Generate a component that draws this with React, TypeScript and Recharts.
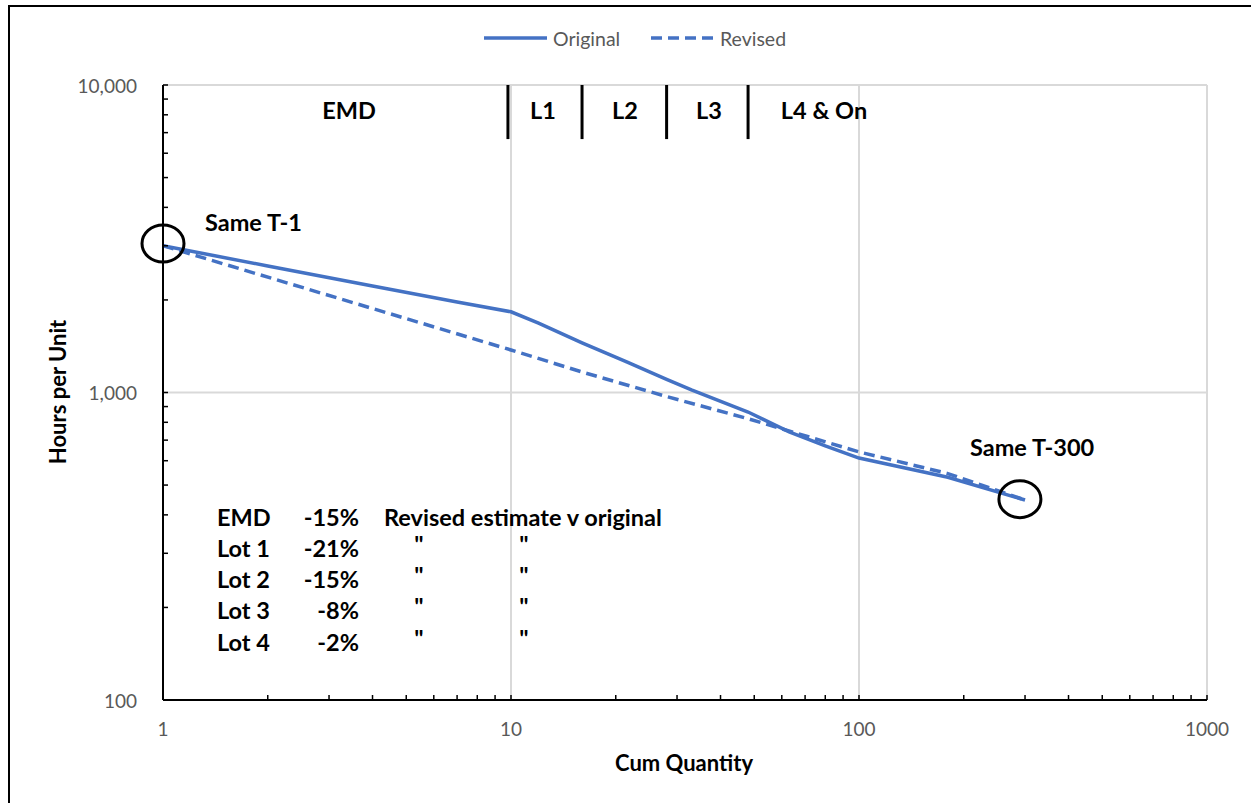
import React from 'react';
import { LineChart, Line, XAxis, YAxis, ReferenceLine, ReferenceDot } from 'recharts';

// ---- data ----
const originalQty = [1, 2, 4, 7, 10, 12, 16, 21.5, 28, 33, 48, 63, 80, 100, 180, 300];
const originalHours = [3000, 2580, 2220, 1970, 1830, 1680, 1450, 1257, 1103, 1020, 864, 745, 670, 612, 530, 447];
const revisedQty = [1, 10, 16, 28, 48, 100, 180, 300];
const revisedHours = [3000, 1375, 1166, 970, 822, 641, 545, 447];

const xTicks = [1, 2, 3, 4, 5, 6, 7, 8, 9, 10, 20, 30, 40, 50, 60, 70, 80, 90, 100, 200, 300, 400, 500, 600, 700, 800, 900, 1000];
const xMajor = [1, 10, 100, 1000];
const yTicks = [100, 200, 300, 400, 500, 600, 700, 800, 900, 1000, 2000, 3000, 4000, 5000, 6000, 7000, 8000, 9000, 10000];
const yMajor = [100, 1000, 10000];
const gridX = [10, 100, 1000];
const gridY = [1000, 10000];

const lotBoundaries = [9.8, 16, 28, 48];
const lotBoundaryTop = 10000;
const lotBoundaryBottom = 6670;
const lotLabels = ['EMD', 'L1', 'L2', 'L3', 'L4 & On'];

const circleQty = [1, 290];
const circleHours = [3050, 450];
const circleLabels = ['Same T-1', 'Same T-300'];

const lotNames = ['EMD', 'Lot 1', 'Lot 2', 'Lot 3', 'Lot 4'];
const lotChanges = ['-15%', '-21%', '-15%', '-8%', '-2%'];
const tableNote = 'Revised estimate v original';

const seriesNames = ['Original', 'Revised'];

const originalData = originalQty.map((q, i) => ({ qty: q, hours: originalHours[i] }));
const revisedData = revisedQty.map((q, i) => ({ qty: q, hours: revisedHours[i] }));

const FONT = "Lato, 'Open Sans', sans-serif";
const BLUE = '#4472C4';
const TICK_FS = 19;
const ANNO_FS = 23.5;

const XTick = (props: any) => {
  const { x, y, payload } = props;
  const v = payload.value;
  const major = xMajor.includes(v);
  return (
    <g>
      <line x1={x} y1={y} x2={x} y2={y - 5} stroke="#000" strokeWidth={1.5} />
      {major && (
        <text x={x} y={y + 28} textAnchor="middle" dominantBaseline="central" fill="#595959" fontSize={TICK_FS} fontFamily={FONT}>
          {v}
        </text>
      )}
    </g>
  );
};

const YTick = (props: any) => {
  const { x, y, payload } = props;
  const v = payload.value;
  const major = yMajor.includes(v);
  return (
    <g>
      <line x1={x} y1={y} x2={x + 5} y2={y} stroke="#000" strokeWidth={1.5} />
      {major && (
        <text x={x - 26} y={y} textAnchor="end" dominantBaseline="central" fill="#595959" fontSize={TICK_FS} fontFamily={FONT}>
          {v.toLocaleString('en-US')}
        </text>
      )}
    </g>
  );
};

const Ellipse = (props: any) => (
  <ellipse cx={props.cx} cy={props.cy} rx={21} ry={18.5} fill="none" stroke="#000" strokeWidth={3} />
);

export default function App() {
  const lotLabelX = [349, 543, 625, 709, 824];
  const rowY = [517, 548, 579, 610, 642];
  const bold = { fontSize: ANNO_FS, fontWeight: 'bold' as const, fill: '#000', fontFamily: FONT };
  return (
    <div style={{ position: 'absolute', left: 0, top: 0, width: 1251, height: 803, overflow: 'hidden', background: '#fff' }}>
      <div style={{ position: 'absolute', left: 8, top: 5, width: 1300, height: 900, borderTop: '2px solid #000', borderLeft: '2px solid #000' }} />
      <div style={{ position: 'absolute', left: 0, top: 0 }}>
        <LineChart width={1251} height={803} margin={{ top: 85, right: 44, bottom: 43, left: 63 }}>
          <XAxis
            dataKey="qty"
            type="number"
            scale="log"
            domain={[1, 1000]}
            allowDataOverflow
            ticks={xTicks}
            interval={0}
            tick={<XTick />}
            tickLine={false}
            tickSize={0}
            tickMargin={0}
            height={60}
            axisLine={{ stroke: '#000', strokeWidth: 2 }}
          />
          <YAxis
            dataKey="hours"
            type="number"
            scale="log"
            domain={[100, 10000]}
            allowDataOverflow
            ticks={yTicks}
            interval={0}
            tick={<YTick />}
            tickLine={false}
            tickSize={0}
            tickMargin={0}
            width={100}
            axisLine={{ stroke: '#000', strokeWidth: 2 }}
          />
          {gridX.map((g) => (
            <ReferenceLine key={'gx' + g} x={g} stroke="#d9d9d9" strokeWidth={2} />
          ))}
          {gridY.map((g) => (
            <ReferenceLine key={'gy' + g} y={g} stroke="#d9d9d9" strokeWidth={2} />
          ))}
          {lotBoundaries.map((b) => (
            <ReferenceLine
              key={'lb' + b}
              segment={[{ x: b, y: lotBoundaryTop }, { x: b, y: lotBoundaryBottom }]}
              stroke="#000"
              strokeWidth={3}
            />
          ))}
          <Line
            data={originalData}
            dataKey="hours"
            name={seriesNames[0]}
            stroke={BLUE}
            strokeWidth={3.5}
            dot={false}
            isAnimationActive={false}
            type="linear"
          />
          <Line
            data={revisedData}
            dataKey="hours"
            name={seriesNames[1]}
            stroke={BLUE}
            strokeWidth={3.5}
            strokeDasharray="11 6"
            dot={false}
            isAnimationActive={false}
            type="linear"
          />
          {circleQty.map((q, i) => (
            <ReferenceDot key={'c' + i} x={q} y={circleHours[i]} r={18} shape={<Ellipse />} ifOverflow="visible" />
          ))}
        </LineChart>
      </div>
      <svg width={1251} height={803} style={{ position: 'absolute', left: 0, top: 0, pointerEvents: 'none' }}>
        {/* legend */}
        <line x1={484} y1={38} x2={547} y2={38} stroke={BLUE} strokeWidth={3.5} />
        <text x={553} y={38} dominantBaseline="central" fontSize={19.5} fill="#595959" fontFamily={FONT}>{seriesNames[0]}</text>
        <line x1={651} y1={38} x2={713} y2={38} stroke={BLUE} strokeWidth={3.5} strokeDasharray="11 6" />
        <text x={720} y={38} dominantBaseline="central" fontSize={19.5} fill="#595959" fontFamily={FONT}>{seriesNames[1]}</text>
        {/* axis titles */}
        <text x={57} y={392} transform="rotate(-90 57 392)" textAnchor="middle" dominantBaseline="central" fontSize={22} fontWeight="bold" fill="#000" fontFamily={FONT}>Hours per Unit</text>
        <text x={684} y={762} textAnchor="middle" dominantBaseline="central" fontSize={22} fontWeight="bold" fill="#000" fontFamily={FONT}>Cum Quantity</text>
        {/* lot labels */}
        {lotLabels.map((l, i) => (
          <text key={l} x={lotLabelX[i]} y={110} textAnchor="middle" dominantBaseline="central" {...bold}>{l}</text>
        ))}
        <text x={205} y={222} dominantBaseline="central" {...bold}>{circleLabels[0]}</text>
        <text x={970} y={447} dominantBaseline="central" {...bold}>{circleLabels[1]}</text>
        {/* table */}
        {lotNames.map((n, i) => (
          <g key={n}>
            <text x={217} y={rowY[i]} dominantBaseline="central" {...bold}>{n}</text>
            <text x={359} y={rowY[i]} textAnchor="end" dominantBaseline="central" {...bold}>{lotChanges[i]}</text>
            {i === 0 ? (
              <text x={384} y={rowY[i]} dominantBaseline="central" {...bold}>{tableNote}</text>
            ) : (
              <>
                <text x={419} y={rowY[i] - 4} textAnchor="middle" dominantBaseline="central" {...bold}>"</text>
                <text x={524} y={rowY[i] - 4} textAnchor="middle" dominantBaseline="central" {...bold}>"</text>
              </>
            )}
          </g>
        ))}
      </svg>
    </div>
  );
}
